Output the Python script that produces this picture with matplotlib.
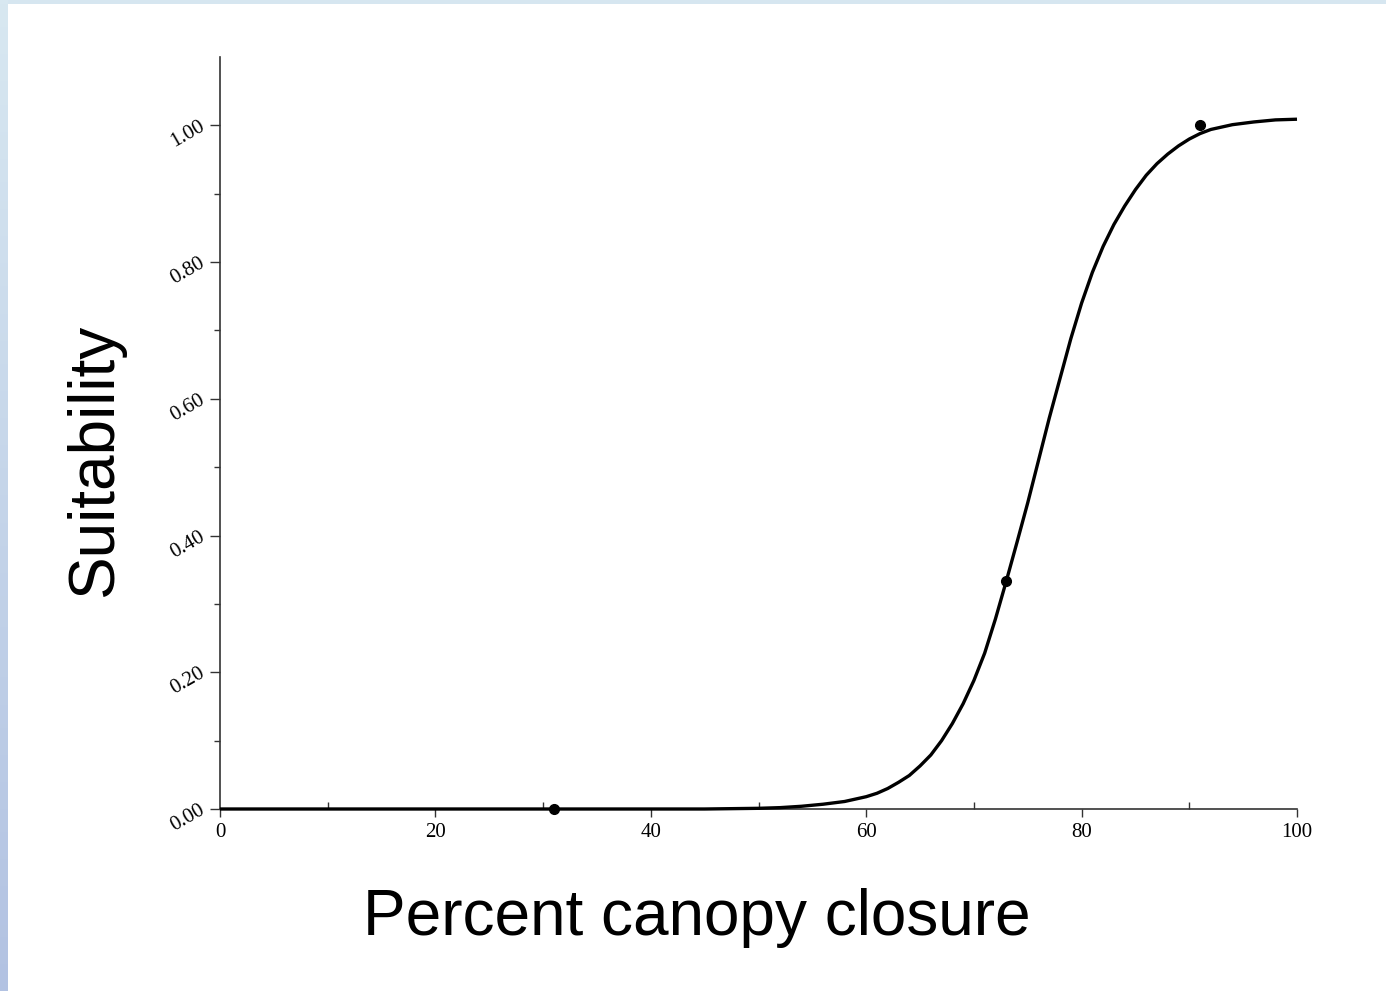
import numpy as np
import matplotlib
matplotlib.use("Agg")
import matplotlib.pyplot as plt
from matplotlib.ticker import MultipleLocator, FixedLocator

# ---- data ----
curve_x = [0, 10, 20, 30, 40, 45, 50, 52, 54, 56, 58, 60, 61, 62, 63, 64, 65,
           66, 67, 68, 69, 70, 71, 72, 73, 74, 75, 76, 77, 78, 79, 80, 81, 82,
           83, 84, 85, 86, 87, 88, 89, 90, 91, 92, 94, 96, 98, 100]
curve_y = [0, 0, 0, 0, 0, 0, 0.001, 0.002, 0.004, 0.007, 0.011, 0.018, 0.023,
           0.030, 0.039, 0.049, 0.063, 0.079, 0.100, 0.125, 0.154, 0.188, 0.228,
           0.278, 0.333, 0.390, 0.448, 0.510, 0.572, 0.630, 0.688, 0.740, 0.785,
           0.823, 0.855, 0.882, 0.906, 0.927, 0.944, 0.958, 0.970, 0.980, 0.988,
           0.994, 1.001, 1.005, 1.008, 1.009]
obs_x = [31, 73, 91]
obs_y = [0.0, 0.333, 1.0]

y_ticks = [0.0, 0.2, 0.4, 0.6, 0.8, 1.0]
y_labels = ["0.00", "0.20", "0.40", "0.60", "0.80", "1.00"]
x_ticks = [0, 20, 40, 60, 80, 100]
x_labels = ["0", "20", "40", "60", "80", "100"]
x_label = "Percent canopy closure"
y_label = "Suitability"

W, H = 1386, 991
fig = plt.figure(figsize=(W / 100, H / 100), dpi=100, facecolor="white")

# background strips (slide frame)
top = fig.add_axes([0, 1 - 4 / H, 1, 4 / H])
top.set_axis_off()
top.imshow(np.array([[[0xd6, 0xe6, 0xf0]]], dtype=np.uint8), aspect="auto",
           extent=[0, 1, 0, 1])
left = fig.add_axes([0, 0, 8 / W, 1])
left.set_axis_off()
c_top = np.array([0xd8, 0xe8, 0xf1]) / 255
c_bot = np.array([0xb2, 0xc2, 0xe2]) / 255
t = np.linspace(0, 1, 256)[:, None]
grad = (c_top[None, :] * (1 - t) + c_bot[None, :] * t)[:, None, :]
left.imshow(grad, aspect="auto", extent=[0, 1, 0, 1])

# main axes
x0, x1 = 220, 1297
ybot, ytop = 809, 57
ax = fig.add_axes([x0 / W, 1 - ybot / H, (x1 - x0) / W, (ybot - ytop) / H])
ax.set_xlim(0, 100)
ax.set_ylim(0, 1.10)
ax.set_facecolor("white")
for s in ["top", "right"]:
    ax.spines[s].set_visible(False)
for s in ["left", "bottom"]:
    ax.spines[s].set_color("#333333")
    ax.spines[s].set_linewidth(1.2)

ax.plot(curve_x, curve_y, color="black", lw=2.4, solid_joinstyle="round",
        solid_capstyle="butt", clip_on=False, zorder=3)
ax.plot(obs_x, obs_y, "o", color="black", ms=7, clip_on=False, zorder=4)

ax.xaxis.set_major_locator(FixedLocator(x_ticks))
ax.set_xticklabels(x_labels, family="Liberation Serif", fontsize=15)
ax.xaxis.set_minor_locator(MultipleLocator(10))
ax.tick_params(axis="x", which="major", direction="out", length=6, width=1,
               color="#333333", pad=4)
ax.tick_params(axis="x", which="minor", direction="in", length=5, width=1,
               color="#333333")

ax.yaxis.set_major_locator(FixedLocator(y_ticks))
ax.set_yticklabels(y_labels, family="Liberation Serif", fontsize=15,
                   rotation=30, ha="right", va="center", rotation_mode="anchor")
ax.yaxis.set_minor_locator(FixedLocator([0.1, 0.3, 0.5, 0.7, 0.9]))
ax.tick_params(axis="y", which="major", direction="out", length=7, width=1,
               color="#333333", pad=5)
ax.tick_params(axis="y", which="minor", direction="out", length=4, width=1,
               color="#333333")

fig.text(697 / W, 1 - 918 / H, x_label, family="Liberation Sans", fontsize=46,
         ha="center", va="center")
fig.text(95 / W, 1 - 460 / H, y_label, family="Liberation Sans", fontsize=46,
         ha="center", va="center", rotation=90)

fig.savefig("out.png", dpi=100, facecolor="white")
